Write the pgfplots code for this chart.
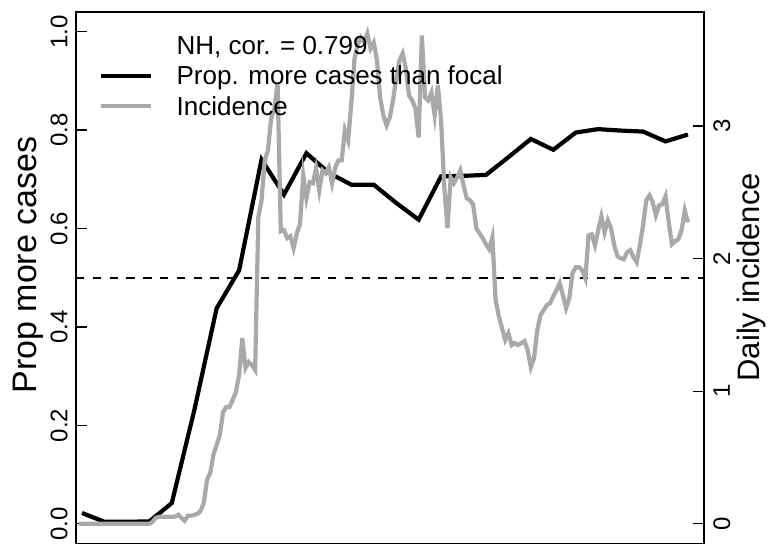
\documentclass[border=0pt]{standalone}
\usepackage{pgfplots}
\pgfplotsset{compat=1.18}
\usepackage{fontspec}
\setmainfont{Liberation Sans}
\definecolor{incgray}{RGB}{169,169,169}

% weekly proportion of regions with more cases than the focal one
\pgfplotstableread{
day prop
0 0.022
7 0.004
14 0.004
21 0.005
28 0.042
35 0.230
42 0.438
49 0.515
56 0.740
63 0.669
70 0.753
77 0.713
84 0.689
91 0.689
98 0.652
105 0.618
112 0.706
119 0.707
126 0.709
133 0.745
140 0.782
147 0.760
154 0.795
161 0.802
168 0.799
175 0.797
182 0.777
189 0.791
}\propdata

\begin{document}
\begin{tikzpicture}
\begin{axis}[
  name=ax,
  scale only axis,
  width=314pt, height=265.75pt,
  xmin=-1.87, xmax=194,
  ymin=-0.04, ymax=1.04,
  xtick=\empty,
  ytick={0,0.2,0.4,0.6,0.8,1},
  yticklabels={0.0,0.2,0.4,0.6,0.8,1.0},
  ytick pos=left,
  tick align=inside,
  major tick length=5.5pt,
  axis line style={line width=0.65pt},
  every tick/.style={black, line width=0.65pt},
  yticklabel style={rotate=90, anchor=south, inner sep=0pt, font=\fontsize{12}{14}\selectfont},
  yticklabel shift=4pt,
  ylabel={Prop more cases},
  ylabel style={at={(axis description cs:-0.0764,0.524)}, anchor=center, font=\fontsize{17}{20}\selectfont},
]
\addplot[black, line width=2.1pt] table[x=day, y=prop] {\propdata};
\addplot[black, line width=0.8pt, dash pattern=on 4.2pt off 4.2pt] coordinates {(-1.87,0.5) (194,0.5)};
\end{axis}

\begin{axis}[
  scale only axis,
  width=314pt, height=265.75pt,
  at={(ax.south west)}, anchor=south west,
  xmin=-1.87, xmax=194,
  ymin=-0.1485, ymax=3.860,
  axis x line=none,
  axis y line*=right,
  ytick={0,1,2,3},
  yticklabels={0,1,2,3},
  tick align=inside,
  major tick length=5.5pt,
  axis line style={line width=0.65pt},
  every tick/.style={black, line width=0.65pt},
  yticklabel style={rotate=90, anchor=north, inner sep=0pt, font=\fontsize{12}{14}\selectfont},
  yticklabel shift=4.5pt,
  ylabel={Daily incidence},
  ylabel style={at={(axis description cs:1.0756,0.501)}, anchor=center, font=\fontsize{15.5}{18}\selectfont},
  legend style={draw=none, fill=none, inner sep=0pt,
    at={(rel axis cs:0.0355,0.9609)}, anchor=north west,
    font=\fontsize{13}{15}\selectfont, row sep=3.05pt,
    nodes={inner sep=0pt, text height=10.5pt, text depth=1.7pt}},
  legend cell align=left,
  legend image code/.code={\draw[#1] (0pt,0pt) -- (25pt,0pt); \path (36.85pt,0pt);},
]
\addlegendimage{empty legend}
\addlegendentry{NH, cor. = 0.799}
\addlegendimage{black, line width=2.1pt}
\addlegendentry{Prop. more cases than focal}
\addplot[incgray, line width=2.1pt] coordinates {
(-1,0) (0,0) (5,0) (10,0) (15,0) (21,0) (22,0.015) (23,0.045) (24,0.053)
(25,0.053) (26,0.053) (27,0.053) (28,0.053) (29,0.053) (30,0.068) (31,0.045)
(32,0.023) (33,0.060) (34,0.060) (35,0.068) (36,0.075) (37,0.098) (38,0.158)
(39,0.331) (40,0.384) (41,0.520) (42,0.595) (43,0.670) (44,0.843) (45,0.881)
(46,0.881) (47,0.934) (48,0.994) (49,1.122) (50,1.400) (51,1.175) (52,1.220)
(53,1.197) (54,1.160) (55,2.312) (56,2.440) (57,2.741) (58,2.816) (59,3.057)
(60,3.133) (61,3.328) (62,2.206) (63,2.214) (64,2.154) (65,2.169) (66,2.078)
(67,2.191) (68,2.259) (69,2.628) (70,2.455) (71,2.575) (72,2.568) (73,2.681)
(74,2.515) (75,2.666) (76,2.643) (77,2.688) (78,2.568) (79,2.688) (80,2.741)
(81,2.741) (82,2.967) (83,2.892) (84,3.170) (85,3.509) (86,3.614) (87,3.667)
(88,3.630) (89,3.697) (90,3.584) (91,3.630) (92,3.494) (93,3.215) (94,3.080)
(95,3.005) (96,3.065) (97,3.193) (98,3.358) (99,3.494) (100,3.547) (101,3.434)
(102,3.230) (103,3.193) (104,3.133) (105,2.914) (106,3.682) (107,3.215) (108,3.193)
(109,3.253) (110,3.080) (111,3.306) (112,3.042) (113,2.538) (114,2.229) (115,2.613)
(116,2.568) (117,2.613) (118,2.666) (119,2.553) (120,2.455) (121,2.440) (122,2.408)
(123,2.229) (124,2.191) (125,2.154) (126,2.108) (127,2.071) (128,2.161) (129,1.687)
(130,1.566) (131,1.476) (132,1.386) (133,1.438) (134,1.348) (135,1.363) (136,1.348)
(137,1.363) (138,1.378) (139,1.310) (140,1.182) (141,1.250) (142,1.461) (143,1.574)
(144,1.611) (145,1.649) (146,1.664) (147,1.717) (148,1.762) (149,1.815) (150,1.724)
(151,1.627) (152,1.702) (153,1.890) (154,1.935) (155,1.935) (156,1.913) (157,1.852)
(158,2.176) (159,2.184) (160,2.101) (161,2.214) (162,2.319) (163,2.199) (164,2.289)
(165,2.229) (166,2.101) (167,2.018) (168,2.003) (169,1.995) (170,2.048) (171,2.063)
(172,2.011) (173,1.973) (174,2.101) (175,2.251) (176,2.440) (177,2.477) (178,2.425)
(179,2.327) (180,2.402) (181,2.410) (182,2.470) (183,2.274) (184,2.108) (185,2.131)
(186,2.146) (187,2.214) (188,2.364) (189,2.274)
};
\addlegendentry{Incidence}
\end{axis}
\pgfresetboundingbox
\path ([xshift=-38pt,yshift=-0.25pt]ax.south west) rectangle ([xshift=32pt,yshift=6pt]ax.north east);
\end{tikzpicture}
\end{document}
